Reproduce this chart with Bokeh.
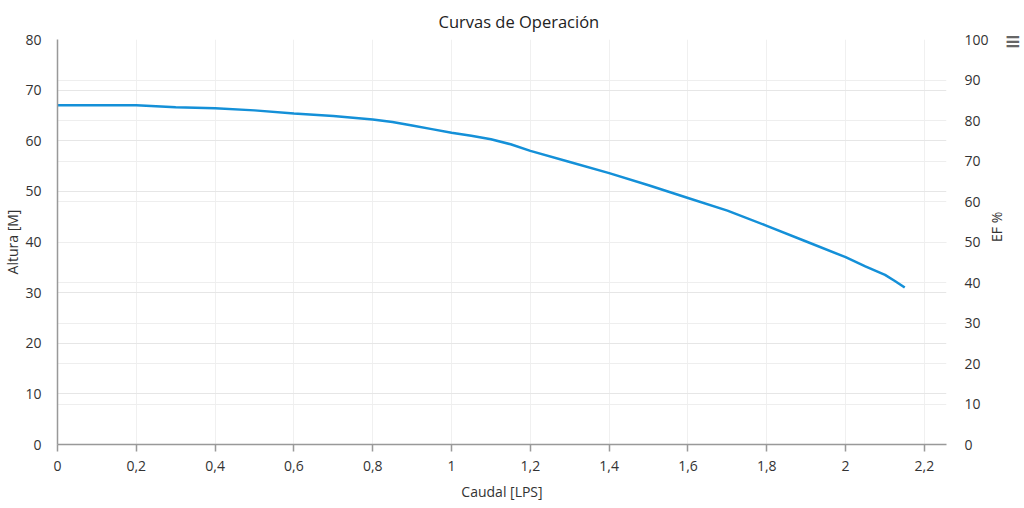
import math
from bokeh.plotting import figure
from bokeh.models import (Range1d, LinearAxis, FixedTicker, CustomJSTickFormatter,
                          Grid, Title)
from bokeh.embed import file_html
from bokeh.resources import INLINE

# ---- data ----
caudal = [0.0, 0.1, 0.2, 0.25, 0.3, 0.4, 0.5, 0.6, 0.7, 0.8, 0.85, 0.9, 0.95,
          1.0, 1.05, 1.1, 1.15, 1.2, 1.3, 1.4, 1.5, 1.6, 1.7, 1.8, 1.9, 2.0,
          2.05, 2.1, 2.125, 2.15]
altura = [67.0, 67.0, 67.0, 66.8, 66.6, 66.4, 66.0, 65.4, 64.9, 64.2, 63.7,
          63.0, 62.3, 61.6, 61.0, 60.3, 59.3, 58.0, 55.8, 53.6, 51.2, 48.7,
          46.2, 43.2, 40.1, 37.0, 35.2, 33.5, 32.3, 31.0]

x_ticks = [0, 0.2, 0.4, 0.6, 0.8, 1.0, 1.2, 1.4, 1.6, 1.8, 2.0, 2.2]
y_ticks = [0, 10, 20, 30, 40, 50, 60, 70, 80]
ef_ticks = [0, 10, 20, 30, 40, 50, 60, 70, 80, 90, 100]

title_text = "Curvas de Operación"
x_title = "Caudal [LPS]"
y_title = "Altura [M]"
ef_title = "EF %"

X_MAX = 2.256
FONT = "Open Sans"
TXT = "#333333"

p = figure(width=1024, height=504, output_backend="svg", toolbar_location=None,
           x_range=Range1d(0, X_MAX), y_range=Range1d(0, 80),
           min_border_left=57, min_border_right=78, min_border_top=39,
           min_border_bottom=60)
p.outline_line_color = None
p.background_fill_color = "white"
p.border_fill_color = "white"

# menu icon (placed closest to the frame, in the top panel)
menu = Title(text="≡", align="left", offset=947, standoff=-27,
             text_font="DejaVu Sans", text_font_size="20px", text_font_style="bold",
             text_color="#666666")
p.add_layout(menu, "above")

# title
p.title.text = title_text
p.title.align = "left"
p.title.offset = 381
p.title.standoff = 14
p.title.text_font = FONT
p.title.text_font_size = "16.5px"
p.title.text_font_style = "normal"
p.title.text_color = "#222222"

p.extra_y_ranges = {"ef": Range1d(0, 100)}

# x axis
xa = p.xaxis[0]
xa.ticker = FixedTicker(ticks=x_ticks)
xa.formatter = CustomJSTickFormatter(code="""
    let s = tick.toFixed(1).replace('.', ',');
    return s.replace(/,0$/, '');
""")
xa.axis_line_color = "#999999"
xa.axis_line_width = 1.5
xa.major_tick_line_color = "#999999"
xa.major_tick_line_width = 1.5
xa.major_tick_out = 7
xa.major_tick_in = 0
xa.minor_tick_line_color = None
xa.major_label_standoff = 9
xa.major_label_text_font = FONT
xa.major_label_text_font_size = "14px"
xa.major_label_text_color = TXT
xa.axis_label = x_title
xa.axis_label_standoff = 8
xa.axis_label_text_font = FONT
xa.axis_label_text_font_size = "14px"
xa.axis_label_text_font_style = "normal"
xa.axis_label_text_color = TXT

# left axis
ya = p.yaxis[0]
ya.ticker = FixedTicker(ticks=y_ticks)
ya.axis_line_color = "#999999"
ya.axis_line_width = 1.5
ya.major_tick_line_color = None
ya.minor_tick_line_color = None
ya.major_label_standoff = 10
ya.major_label_text_font = FONT
ya.major_label_text_font_size = "14px"
ya.major_label_text_color = TXT
ya.axis_label = y_title
ya.axis_label_standoff = 0
ya.axis_label_text_font = FONT
ya.axis_label_text_font_size = "14px"
ya.axis_label_text_font_style = "normal"
ya.axis_label_text_color = TXT

# right axis
ra = LinearAxis(y_range_name="ef", ticker=FixedTicker(ticks=ef_ticks))
ra.axis_line_color = None
ra.major_tick_line_color = None
ra.minor_tick_line_color = None
ra.major_label_standoff = 12
ra.major_label_text_font = FONT
ra.major_label_text_font_size = "14px"
ra.major_label_text_color = TXT
ra.axis_label = ef_title
ra.axis_label_standoff = 5
ra.axis_label_orientation = math.pi / 2
ra.axis_label_text_font = FONT
ra.axis_label_text_font_size = "14px"
ra.axis_label_text_font_style = "normal"
ra.axis_label_text_color = TXT
p.add_layout(ra, "right")

# grids
p.xgrid.ticker = FixedTicker(ticks=x_ticks)
p.xgrid.grid_line_color = "#f0f0f0"
p.ygrid.ticker = FixedTicker(ticks=y_ticks)
p.ygrid.grid_line_color = "#e6e6e6"
g2 = Grid(dimension=1, ticker=FixedTicker(ticks=ef_ticks), y_range_name="ef",
          grid_line_color="#eeeeee")
p.add_layout(g2)

# series
p.line(caudal, altura, line_color="#1490d8", line_width=2.5)

open("out.html", "w").write(file_html(p, INLINE))
